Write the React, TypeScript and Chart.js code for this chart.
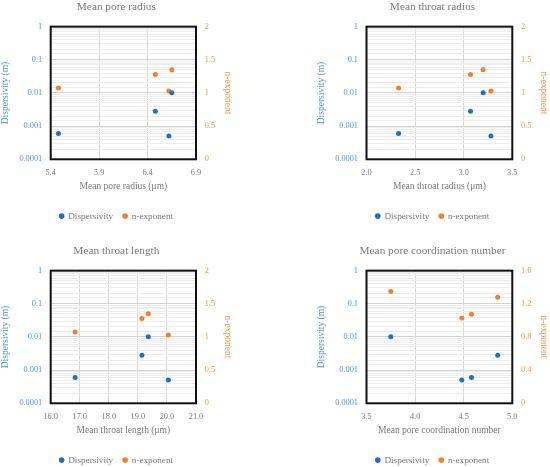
import React, { useEffect, useRef } from "react";
import { Chart, registerables } from "chart.js";

Chart.register(...registerables);

// ---- data ----
const dispersivity = [0.0006, 0.0028, 0.0005, 0.0102];
const nExponent = [1.075, 1.28, 1.03, 1.35];
const poreRadius = [5.48, 6.48, 6.62, 6.65];
const throatRadius = [2.33, 3.07, 3.28, 3.2];
const throatLength = [16.84, 19.14, 20.05, 19.36];
const coordNumber = [4.58, 4.85, 4.48, 3.75];

const poreRadiusTicks = [5.4, 5.9, 6.4, 6.9];
const throatRadiusTicks = [2.0, 2.5, 3.0, 3.5];
const throatLengthTicks = [16.0, 17.0, 18.0, 19.0, 20.0, 21.0];
const coordTicks = [3.5, 4.0, 4.5, 5.0];

const dispTickLabels = ["0.0001", "0.001", "0.01", "0.1", "1"];
const nTicksA = [0, 0.5, 1, 1.5, 2];
const nTicksB = [0, 0.4, 0.8, 1.2, 1.6];

const titles = [
  "Mean pore radius",
  "Mean throat radius",
  "Mean throat length",
  "Mean pore coordination number",
];
const xTitles = [
  "Mean pore radius (μm)",
  "Mean throat radius (μm)",
  "Mean throat length (μm)",
  "Mean pore coordination number",
];
const seriesNames = ["Dispersivity", "n-exponent"];

const BLUE = "#1F6FC6";
const ORANGE = "#F47F2C";
const BLUE_TEXT = "#4F93DA";
const ORANGE_TEXT = "#F5984F";
const GRAY = "#7A7A7A";
const FONT = "'Liberation Serif', 'Times New Roman', serif";

const borderPlugin = {
  id: "plotBorder",
  afterDraw(chart: any) {
    const { ctx, chartArea } = chart;
    ctx.save();
    ctx.strokeStyle = "#111";
    ctx.lineWidth = 2;
    ctx.strokeRect(chartArea.left, chartArea.top, chartArea.right - chartArea.left, chartArea.bottom - chartArea.top);
    ctx.restore();
  },
};

type PanelProps = {
  title: string;
  xTitle: string;
  xValues: number[];
  xTicks: number[];
  nTicks: number[];
  left: boolean;
};

function Panel({ title, xTitle, xValues, xTicks, nTicks, left }: PanelProps) {
  const ref = useRef<HTMLCanvasElement>(null);
  useEffect(() => {
    if (!ref.current) return;
    const padL = left ? 0 : 41;
    const padR = left ? 42.3 : 1;
    const yW = left ? 50.7 : 50.5;
    const y1W = 36.7;
    const chart = new Chart(ref.current, {
      type: "scatter",
      data: {
        datasets: [
          {
            label: seriesNames[0],
            data: xValues.map((x, i) => ({ x, y: dispersivity[i] })),
            yAxisID: "y",
            backgroundColor: BLUE,
            borderColor: BLUE,
            pointRadius: 2.5,
            pointBorderWidth: 0,
          },
          {
            label: seriesNames[1],
            data: xValues.map((x, i) => ({ x, y: nExponent[i] })),
            yAxisID: "y1",
            backgroundColor: ORANGE,
            borderColor: ORANGE,
            pointRadius: 2.5,
            pointBorderWidth: 0,
          },
        ],
      },
      options: {
        animation: false,
        responsive: false,
        devicePixelRatio: 1,
        layout: { padding: { left: padL, right: padR, top: 0, bottom: 2.3 } },
        plugins: {
          title: {
            display: true,
            text: title,
            color: GRAY,
            font: { family: FONT, size: 11.3, weight: "normal" },
            padding: { top: 0, bottom: 13.1 },
          },
          legend: {
            position: "bottom",
            labels: {
              usePointStyle: true,
              pointStyle: "circle",
              boxWidth: 4,
              boxHeight: 4,
              padding: 10,
              color: GRAY,
              font: { family: FONT, size: 9.2 },
            },
          },
          tooltip: { enabled: false },
        },
        scales: {
          x: {
            type: "linear",
            min: xTicks[0],
            max: xTicks[xTicks.length - 1],
            afterBuildTicks: (s: any) => {
              s.ticks = xTicks.map((v) => ({ value: v }));
            },
            afterFit: (s: any) => {
              s.height = 42.2;
            },
            ticks: {
              padding: 8.5,
              color: GRAY,
              font: { family: FONT, size: 8.3 },
              callback: (v: any) => Number(v).toFixed(1),
              autoSkip: false,
              maxRotation: 0,
            },
            grid: { color: "#D9D9D9", lineWidth: 1, drawTicks: false },
            border: { display: false },
            title: {
              display: true,
              text: xTitle,
              color: GRAY,
              font: { family: FONT, size: 9.5 },
              padding: { top: 0, bottom: 9.1 },
            },
          },
          y: {
            type: "logarithmic",
            position: "left",
            min: 0.0001,
            max: 1,
            afterFit: (s: any) => {
              s.width = yW;
            },
            ticks: {
              padding: 8.5,
              color: BLUE_TEXT,
              autoSkip: false,
              font: { family: FONT, size: 8.3 },
              callback: (v: any) => {
                const l = Math.log10(Number(v));
                const r = Math.round(l);
                return Math.abs(l - r) < 1e-6 ? dispTickLabels[r + 4] : "";
              },
            },
            grid: {
              drawTicks: false,
              color: (c: any) => {
                const v = c.tick ? c.tick.value : 1;
                const l = Math.log10(v);
                return Math.abs(l - Math.round(l)) < 1e-6 ? "#D4D4D4" : "#EDEDED";
              },
            },
            border: { display: false },
            title: {
              display: true,
              text: "Dispersivity (m)",
              color: BLUE_TEXT,
              font: { family: FONT, size: 9.5 },
              padding: { top: 0, bottom: 0 },
            },
          },
          y1: {
            type: "linear",
            position: "right",
            min: nTicks[0],
            max: nTicks[nTicks.length - 1],
            afterBuildTicks: (s: any) => {
              s.ticks = nTicks.map((v) => ({ value: v }));
            },
            afterFit: (s: any) => {
              s.width = y1W;
            },
            ticks: {
              padding: 8.7,
              color: ORANGE_TEXT,
              font: { family: FONT, size: 8.3 },
              callback: (v: any) => String(Number(v)),
            },
            grid: { drawOnChartArea: false, drawTicks: false },
            border: { display: false },
            title: {
              display: true,
              text: "n-exponent",
              color: ORANGE_TEXT,
              font: { family: FONT, size: 9.5 },
              padding: { top: 0, bottom: 0 },
            },
          },
        },
      },
      plugins: [borderPlugin],
    } as any);
    return () => chart.destroy();
  }, []);
  return <canvas ref={ref} width={275} height={233} style={{ width: 275, height: 233, display: "block" }} />;
}

export default function App() {
  const panels = [
    { xValues: poreRadius, xTicks: poreRadiusTicks, nTicks: nTicksA, left: true, top: 0, x: 0 },
    { xValues: throatRadius, xTicks: throatRadiusTicks, nTicks: nTicksA, left: false, top: 0, x: 275 },
    { xValues: throatLength, xTicks: throatLengthTicks, nTicks: nTicksA, left: true, top: 244, x: 0 },
    { xValues: coordNumber, xTicks: coordTicks, nTicks: nTicksB, left: false, top: 244, x: 275 },
  ];
  return (
    <div
      style={{
        position: "fixed",
        left: 0,
        top: 0,
        width: 550,
        height: 467,
        overflow: "hidden",
        background: "#fff",
      }}
    >
      {panels.map((p, i) => (
        <div key={i} style={{ position: "absolute", left: p.x, top: p.top, width: 275, height: 233 }}>
          <Panel
            title={titles[i]}
            xTitle={xTitles[i]}
            xValues={p.xValues}
            xTicks={p.xTicks}
            nTicks={p.nTicks}
            left={p.left}
          />
        </div>
      ))}
    </div>
  );
}
